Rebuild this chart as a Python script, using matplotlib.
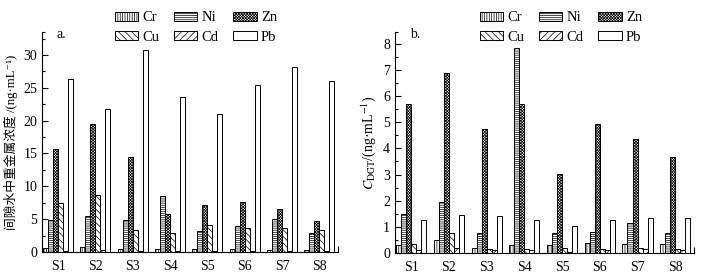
import matplotlib
matplotlib.use("Agg")
import matplotlib.pyplot as plt
import numpy as np
from matplotlib.ticker import MultipleLocator, FixedLocator

plt.rcParams['font.family'] = ['Liberation Serif', 'DejaVu Serif', 'Noto Sans CJK SC']
plt.rcParams['mathtext.fontset'] = 'stix'
plt.rcParams['hatch.linewidth'] = 0.5
plt.rcParams['font.size'] = 10

sites = ['S1', 'S2', 'S3', 'S4', 'S5', 'S6', 'S7', 'S8']
metals = ['Cr', 'Ni', 'Zn', 'Cu', 'Cd', 'Pb']

# 间隙水中重金属浓度 (panel a)
pw_cr = [0.6, 0.8, 0.4, 0.5, 0.4, 0.5, 0.3, 0.3]
pw_ni = [4.9, 5.5, 4.8, 8.6, 3.2, 3.9, 5.0, 2.9]
pw_zn = [15.7, 19.5, 14.5, 5.8, 7.1, 7.6, 6.6, 4.7]
pw_cu = [7.5, 8.7, 3.3, 2.9, 4.1, 3.6, 3.7, 3.4]
pw_cd = [0.2, 0.3, 0.2, 0.2, 0.1, 0.1, 0.2, 0.1]
pw_pb = [26.4, 21.8, 30.7, 23.6, 21.0, 25.4, 28.2, 26.0]

# C_DGT (panel b)
dgt_cr = [0.30, 0.48, 0.20, 0.30, 0.30, 0.38, 0.33, 0.33]
dgt_ni = [1.48, 1.95, 0.75, 7.83, 0.75, 0.80, 1.13, 0.77]
dgt_zn = [5.68, 6.87, 4.75, 5.68, 3.03, 4.95, 4.37, 3.68]
dgt_cu = [0.35, 0.78, 0.17, 0.15, 0.20, 0.15, 0.20, 0.15]
dgt_cd = [0.12, 0.20, 0.10, 0.10, 0.05, 0.10, 0.15, 0.12]
dgt_pb = [1.28, 1.47, 1.43, 1.28, 1.05, 1.28, 1.33, 1.32]

hatches = ['|' * 7, '-' * 8, 'x' * 12, '\\' * 5, '/' * 5, '']

fig = plt.figure(figsize=(7.04, 2.77), dpi=100)
ax1 = fig.add_axes([0.0597, 0.0903, 0.4205, 0.7942])
ax2 = fig.add_axes([0.561, 0.0866, 0.425, 0.798])

x = np.arange(1, len(sites) + 1)
w = 0.8 / 6

def draw(ax, series, ytop, major, minor, letter):
    for i, vals in enumerate(series):
        ax.bar(x - 0.4 + w * (i + 0.5), vals, w, color='white', edgecolor='black',
               linewidth=0.7, hatch=hatches[i], label=metals[i])
    ax.set_xlim(0.57, 8.5)
    ax.set_ylim(0, ytop)
    ax.set_xticks(x)
    ax.set_xticklabels(sites)
    ax.tick_params(axis='x', length=0, pad=6)
    ax.xaxis.set_minor_locator(FixedLocator([8.5]))
    ax.tick_params(axis='x', which='minor', direction='in', length=4, width=0.8)
    ax.yaxis.set_major_locator(MultipleLocator(major))
    ax.yaxis.set_minor_locator(FixedLocator(list(np.arange(minor, ytop, major)) + [ytop]))
    ax.tick_params(axis='y', which='major', direction='in', length=4, width=0.8)
    ax.tick_params(axis='y', which='minor', direction='in', length=2.5, width=0.8)
    for s in ['top', 'right']:
        ax.spines[s].set_visible(False)
    for s in ['left', 'bottom']:
        ax.spines[s].set_linewidth(0.8)
    ax.text(0.05, 0.99, letter, transform=ax.transAxes, ha='left', va='center')
    h, l = ax.get_legend_handles_labels()
    order = [0, 3, 1, 4, 2, 5]
    return [h[k] for k in order], [l[k] for k in order]

h1, l1 = draw(ax1, [pw_cr, pw_ni, pw_zn, pw_cu, pw_cd, pw_pb], 33.5, 5, 2.5, 'a.')
h2, l2 = draw(ax2, [dgt_cr, dgt_ni, dgt_zn, dgt_cu, dgt_cd, dgt_pb], 8.45, 1, 0.5, 'b.')

for ax, h, l, cx in [(ax1, h1, l1, 0.52), (ax2, h2, l2, 0.555)]:
    ax.legend(h, l, ncol=3, loc='upper center', bbox_to_anchor=(cx, 1.12),
              frameon=False, handlelength=1.6, handleheight=0.55,
              columnspacing=1.0, handletextpad=0.3, labelspacing=0.45,
              borderaxespad=0, fontsize=10.5)

ax1.set_ylabel('间隙水中重金属浓度 /(ng·mL⁻¹)', labelpad=4, fontsize=9.2)
ax2.set_ylabel(r'$C_{\rm DGT}$/(ng·mL$^{-1}$)', labelpad=4, fontsize=10)

fig.savefig('out.png', dpi=100)
